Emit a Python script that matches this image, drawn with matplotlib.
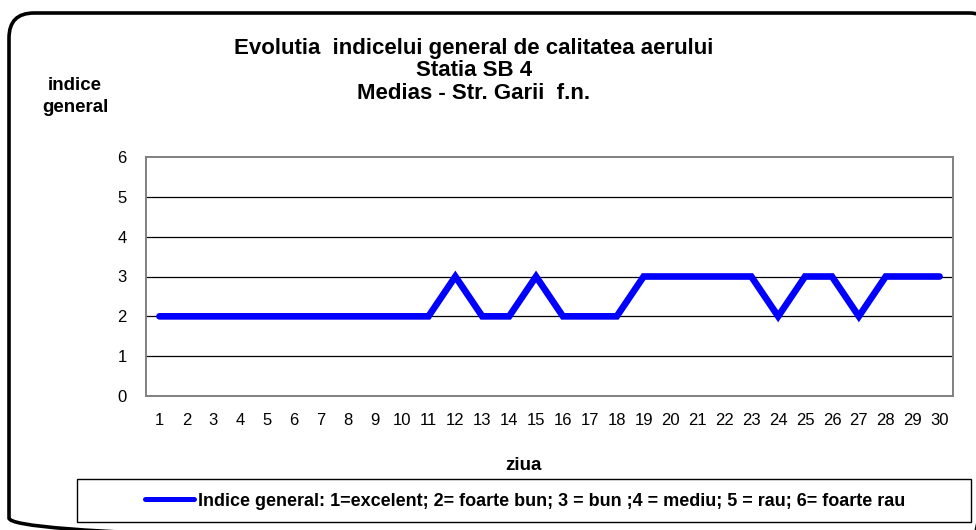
import matplotlib
matplotlib.use('Agg')
import matplotlib.pyplot as plt
import matplotlib.transforms as mtransforms
from matplotlib.patches import FancyBboxPatch, Rectangle
from matplotlib.lines import Line2D

plt.rcParams['font.family'] = ['Liberation Sans', 'DejaVu Sans']

days = [str(d) for d in range(1, 31)]
indice = [2, 2, 2, 2, 2, 2, 2, 2, 2, 2, 2, 3, 2, 2, 3, 2, 2, 2, 3, 3,
          3, 3, 3, 2, 3, 3, 2, 3, 3, 3]
y_ticks = [0, 1, 2, 3, 4, 5, 6]

title_lines = ['Evolutia  indicelui general de calitatea aerului',
               'Statia SB 4',
               'Medias - Str. Garii  f.n.']
legend_label = 'Indice general: 1=excelent; 2= foarte bun; 3 = bun ;4 = mediu; 5 = rau; 6= foarte rau'

W, H = 976, 530
fig = plt.figure(figsize=(W / 100, H / 100), dpi=100)
fig.patch.set_facecolor('white')

# background layer in pixel units for the rounded frame and legend box
bg = fig.add_axes([0, 0, 1, 1])
bg.set_xlim(0, W)
bg.set_ylim(H, 0)
bg.axis('off')
bg.add_patch(FancyBboxPatch((9, 13), 985, 530, boxstyle='round,pad=0,rounding_size=25',
                            fc='none', ec='black', lw=2.6))
bg.add_patch(Rectangle((77, 479), 894, 43, fc='white', ec='black', lw=1.0))

ax = fig.add_axes([146 / W, 1 - 396 / H, (953 - 146) / W, (396 - 157) / H])
x = list(range(len(days)))
ax.plot(x, indice, color='#0000FF', lw=4.8, solid_capstyle='round', solid_joinstyle='miter', zorder=3)
ax.set_xlim(-0.5, len(days) - 0.5)
ax.set_ylim(0, 6)
ax.set_yticks(y_ticks)
ax.set_xticks(x)
ax.set_xticklabels(days, fontsize=12)
shift = mtransforms.ScaledTranslation(-0.06, 0, fig.dpi_scale_trans)
for lbl in ax.get_xticklabels():
    lbl.set_transform(lbl.get_transform() + shift)
ax.tick_params(axis='both', length=0)
ax.tick_params(axis='y', labelsize=12, pad=14)
ax.tick_params(axis='x', pad=12)
for v in y_ticks[1:-1]:
    ax.axhline(v, color='black', lw=0.9, zorder=1)
for s in ax.spines.values():
    s.set_color('#808080')
    s.set_linewidth(1.4)

fig.text(474 / W, 1 - 71 / H, '\n'.join(title_lines), ha='center', va='center',
         fontsize=16, fontweight='bold', linespacing=1.12)
fig.text(75 / W, 1 - 85 / H, 'indice', ha='center', va='center', fontsize=13.5, fontweight='bold')
fig.text(75 / W, 1 - 107 / H, 'general', ha='center', va='center', fontsize=13.5, fontweight='bold')
fig.text(523 / W, 1 - 466 / H, 'ziua', ha='center', va='center', fontsize=13.5, fontweight='bold')

handle = Line2D([], [], color='#0000FF', lw=3.6, solid_capstyle='round')
fig.legend([handle], [legend_label], loc='center left', bbox_to_anchor=(145 / W, 1 - 501 / H),
           frameon=False, handlelength=2.7, handletextpad=0.25, borderpad=0, borderaxespad=0,
           prop={'size': 13, 'weight': 'bold'})

fig.savefig('out.png', dpi=100, facecolor='white')
